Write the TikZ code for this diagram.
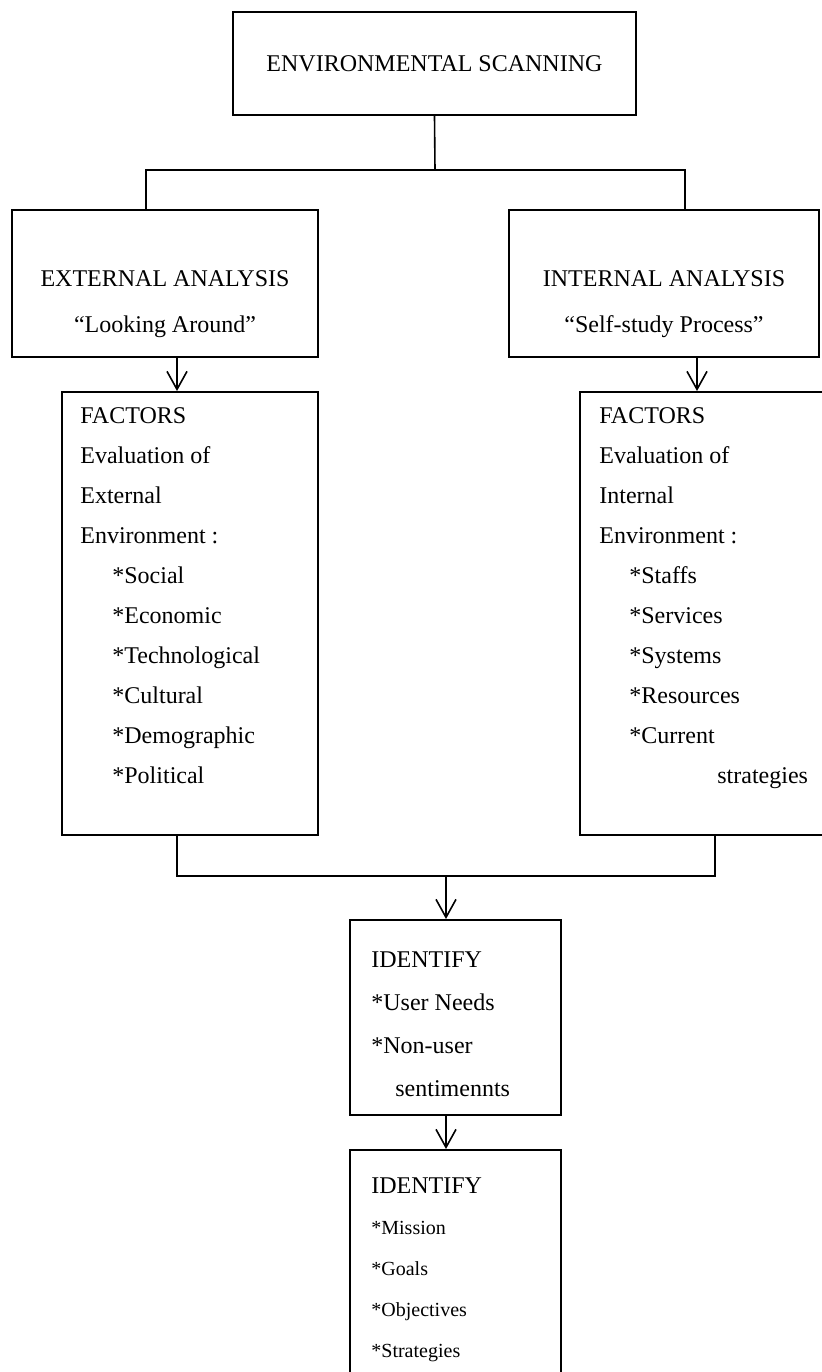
\documentclass[tikz,border=0pt]{standalone}
\usepackage{fontspec}
\setmainfont{Liberation Serif}
\usetikzlibrary{positioning,arrows.meta}

\tikzset{
  box/.style={draw, line width=1pt, inner sep=0pt},
  txt/.style={align=left, inner sep=0pt, font=\fontsize{12}{20}\selectfont},
  link/.style={line width=0.8pt},
  arr/.style={link, -{Straight Barb[length=9pt,width=10pt,line width=0.8pt]}},
}

\begin{document}
\begin{tikzpicture}[x=0.5pt,y=-0.5pt]
  \useasboundingbox (0,0) rectangle (821,1372);

  % boxes
  \node[box, minimum width=201.5pt, minimum height=51.5pt] (scan) at (434.5,63.5)
    {\fontsize{12}{14}\selectfont ENVIRONMENTAL SCANNING};
  \node[box, minimum width=153pt, minimum height=73.5pt] (ext) at (165,283.5) {};
  \node[box, minimum width=155pt, minimum height=73.5pt] (int) at (664,283.5) {};
  \node[box, minimum width=128pt, minimum height=221.5pt] (extf) at (190,613.5) {};
  \node[box, minimum width=125pt, minimum height=221.5pt] (intf) at (705,613.5) {};
  \node[box, minimum width=105.5pt, minimum height=97.5pt] (idone) at (455.5,1017.5) {};
  \node[box, minimum width=105.5pt, minimum height=113pt] (idtwo) at (455.5,1263) {};

  % texts
  \node[txt, align=center, above=10pt of ext.south] (exttxt)
    {EXTERNAL ANALYSIS\\[3pt] “Looking Around”};
  \node[txt, align=center, above=10pt of int.south] (inttxt)
    {INTERNAL ANALYSIS\\[3pt] “Self-study Process”};
  \node[txt, below right=8pt and 9.5pt of extf.north west] (extlist)
    {FACTORS\\ Evaluation of\\ External\\ Environment :\\
     \hspace*{16pt}*Social\\ \hspace*{16pt}*Economic\\ \hspace*{16pt}*Technological\\
     \hspace*{16pt}*Cultural\\ \hspace*{16pt}*Demographic\\ \hspace*{16pt}*Political};
  \node[txt, below right=8pt and 10pt of intf.north west] (intlist)
    {FACTORS\\ Evaluation of\\ Internal\\ Environment :\\
     \hspace*{15pt}*Staffs\\ \hspace*{15pt}*Services\\ \hspace*{15pt}*Systems\\
     \hspace*{15pt}*Resources\\ \hspace*{15pt}*Current\\ \hspace*{59pt}strategies};
  \node[txt, font=\fontsize{12}{21.5}\selectfont, below right=16pt and 11pt of idone.north west] (needs)
    {IDENTIFY\\ *User Needs\\ *Non-user\\ \hspace*{12pt}sentimennts};
  \node[txt, font=\fontsize{10}{20.5}\selectfont, below right=14pt and 11pt of idtwo.north west] (mission)
    {{\fontsize{12}{14}\selectfont IDENTIFY}\\ *Mission\\ *Goals\\ *Objectives\\ *Strategies};

  % connectors
  \coordinate (split) at (435,170);
  \coordinate (lt) at (146,170);
  \coordinate (rt) at (685,170);
  \coordinate (ea) at (177,0);
  \coordinate (ia) at (697,0);
  \coordinate (ma) at (715,0);
  \coordinate (mj) at (446,876);
  \draw[link] (scan.south) -- (split);
  \draw[link] (lt |- ext.north) -- (lt) -- (rt) -- (rt |- int.north);
  \draw[arr] (ea |- ext.south) -- (ea |- extf.north);
  \draw[arr] (ia |- int.south) -- (ia |- intf.north);
  \draw[link] (extf.south -| ea) |- (mj) -| (intf.south -| ma);
  \draw[arr] (mj) -- (mj |- idone.north);
  \draw[arr] (idone.south -| mj) -- (mj |- idtwo.north);
\end{tikzpicture}
\end{document}
